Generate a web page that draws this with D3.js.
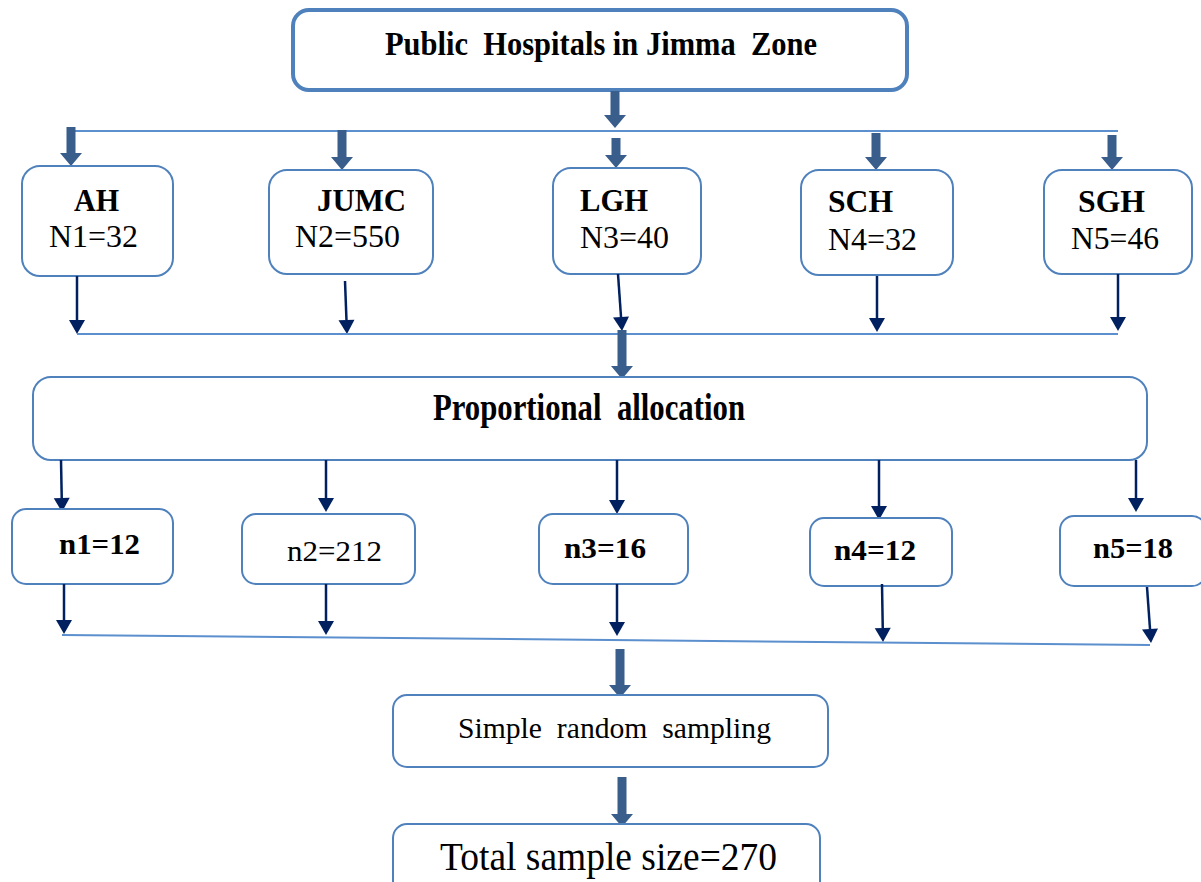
<!DOCTYPE html>
<html>
<head>
<meta charset="utf-8">
<script src="https://cdn.jsdelivr.net/npm/d3@7"></script>
<style>
  body { margin: 0; background: #fff; }
</style>
</head>
<body>
<div id="chart"></div>
<script>
// flow data
const titleText = "Public  Hospitals in Jimma  Zone";
const hospitals = ["AH", "JUMC", "LGH", "SCH", "SGH"];
const popLabels = ["N1", "N2", "N3", "N4", "N5"];
const popValues = [32, 550, 40, 32, 46];
const sampleLabels = ["n1", "n2", "n3", "n4", "n5"];
const sampleValues = [12, 212, 16, 12, 18];
const allocationText = "Proportional  allocation";
const samplingText = "Simple  random  sampling";
const totalLabel = "Total sample size";
const totalValue = d3.sum(sampleValues); // 270

const width = 1201;
const height = 882;

const boxBlue = "rgb(79, 129, 189)";
const lineBlue = "rgb(91, 143, 206)";
const thickBlue = "rgb(58, 94, 140)";
const navy = "rgb(0, 32, 96)";
const serif = '"Liberation Serif", "Times New Roman", serif';

// layout of each hospital column (hand placed like the original drawing)
const colLayout = d3.scaleOrdinal(hospitals, [
    { feed: 71,   feedTop: 127, box1: [22, 166, 173, 276],   lab: [74, 211, 45],   pop: [49, 247, 89],
      down1: [77, 276, 77, 334],   split: [61, 460, 62, 512],   box2: [12, 509, 173, 584],  smp: [59, 554, 81],  down2: [64, 584, 64, 634] },
    { feed: 342,  feedTop: 130, box1: [269, 170, 433, 274],  lab: [317, 211, 89],  pop: [295, 247, 105],
      down1: [345, 281, 347, 334], split: [326, 460, 326, 512], box2: [242, 514, 415, 584], smp: [287, 561, 95], down2: [326, 584, 326, 635] },
    { feed: 616,  feedTop: 138, box1: [553, 168, 701, 274],  lab: [580, 211, 68],  pop: [580, 248, 89],
      down1: [618, 274, 622, 331], split: [617, 460, 617, 514], box2: [539, 514, 688, 584], smp: [564, 558, 82], down2: [617, 584, 617, 636] },
    { feed: 876,  feedTop: 133, box1: [801, 170, 953, 275],  lab: [828, 212, 65],  pop: [828, 250, 89],
      down1: [877, 276, 877, 332], split: [879, 460, 879, 520], box2: [810, 518, 952, 586], smp: [834, 560, 82], down2: [882, 584, 883, 642] },
    { feed: 1112, feedTop: 135, box1: [1044, 170, 1192, 274], lab: [1078, 212, 67], pop: [1071, 249, 88],
      down1: [1118, 274, 1118, 331], split: [1136, 460, 1136, 512], box2: [1060, 516, 1206, 586], smp: [1093, 558, 80], down2: [1147, 587, 1151, 643] }
]);
const sampleBold = d3.scaleOrdinal(hospitals, [true, false, true, true, true]);

const svg = d3.select("#chart").append("svg")
    .attr("width", width)
    .attr("height", height)
    .style("display", "block");

svg.append("rect").attr("width", width).attr("height", height).attr("fill", "#fff");

function roundBox(g, b, r, sw) {
    g.append("rect")
        .attr("x", b[0]).attr("y", b[1])
        .attr("width", b[2] - b[0]).attr("height", b[3] - b[1])
        .attr("rx", r).attr("ry", r)
        .attr("fill", "#fff")
        .attr("stroke", boxBlue)
        .attr("stroke-width", sw);
}

function label(g, txt, x, y, w, size, bold) {
    return g.append("text")
        .attr("x", x).attr("y", y)
        .style("font-family", serif)
        .style("font-size", size + "px")
        .style("font-weight", bold ? "bold" : "normal")
        .style("white-space", "pre")
        .attr("fill", "#000")
        .attr("textLength", w)
        .attr("lengthAdjust", "spacingAndGlyphs")
        .text(txt);
}

// block arrow pointing down
function thickArrow(g, x, y0, y1) {
    const sw = 4.5, hw = 11, hl = 13;
    const pts = [[x - sw, y0], [x + sw, y0], [x + sw, y1 - hl], [x + hw, y1 - hl],
                 [x, y1], [x - hw, y1 - hl], [x - sw, y1 - hl]];
    g.append("path").attr("d", d3.line()(pts) + "Z").attr("fill", thickBlue);
}

// thin line arrow, may be slightly slanted
function thinArrow(g, a) {
    const [x0, y0, x1, y1] = a;
    const len = Math.hypot(x1 - x0, y1 - y0);
    const ux = (x1 - x0) / len, uy = (y1 - y0) / len;
    const hl = 14, hw = 8;
    const bx = x1 - ux * hl, by = y1 - uy * hl;
    g.append("line")
        .attr("x1", x0).attr("y1", y0).attr("x2", bx).attr("y2", by)
        .attr("stroke", navy).attr("stroke-width", 2.5);
    g.append("path")
        .attr("d", d3.line()([[x1, y1], [bx - uy * hw, by + ux * hw], [bx + uy * hw, by - ux * hw]]) + "Z")
        .attr("fill", navy);
}

function connector(g, x0, y0, x1, y1) {
    g.append("line")
        .attr("x1", x0).attr("y1", y0).attr("x2", x1).attr("y2", y1)
        .attr("stroke", lineBlue).attr("stroke-width", 2);
}

const g = svg.append("g");

// title box
roundBox(g, [293, 10, 907, 90], 16, 4);
label(g, titleText, 385, 55, 432, 34, true);
thickArrow(g, 615, 91, 128);
connector(g, 70, 131, 1118, 131);

// hospital columns
hospitals.forEach((h, i) => {
    const c = colLayout(h);
    thickArrow(g, c.feed, c.feedTop, c.box1[1]);
    roundBox(g, c.box1, 18, 2);
    label(g, h, c.lab[0], c.lab[1], c.lab[2], 31, true);
    label(g, popLabels[i] + "=" + popValues[i], c.pop[0], c.pop[1], c.pop[2], 32, false);
    thinArrow(g, c.down1);
});
connector(g, 77, 334, 1118, 334);
thickArrow(g, 622, 330, 379);

// proportional allocation
roundBox(g, [33, 377, 1147, 460], 18, 2);
label(g, allocationText, 433, 420, 312, 37, true);

hospitals.forEach((h, i) => {
    const c = colLayout(h);
    thinArrow(g, c.split);
    roundBox(g, c.box2, 14, 2);
    label(g, sampleLabels[i] + "=" + sampleValues[i], c.smp[0], c.smp[1], c.smp[2], 30, sampleBold(h));
    thinArrow(g, c.down2);
});
connector(g, 62, 635, 1150, 645);
thickArrow(g, 620, 649, 698);

// simple random sampling
roundBox(g, [393, 695, 828, 767], 14, 2);
label(g, samplingText, 458, 738, 313, 29, false);
thickArrow(g, 622, 777, 827);

// total sample size (bottom cut off like the original page)
svg.append("clipPath").attr("id", "totalClip")
    .append("rect").attr("x", 0).attr("y", 0).attr("width", width).attr("height", 879);
roundBox(g, [393, 824, 820, 920], 14, 2);
label(g, totalLabel + "=" + totalValue, 440, 870, 337, 40, false)
    .attr("clip-path", "url(#totalClip)");
</script>
</body>
</html>
